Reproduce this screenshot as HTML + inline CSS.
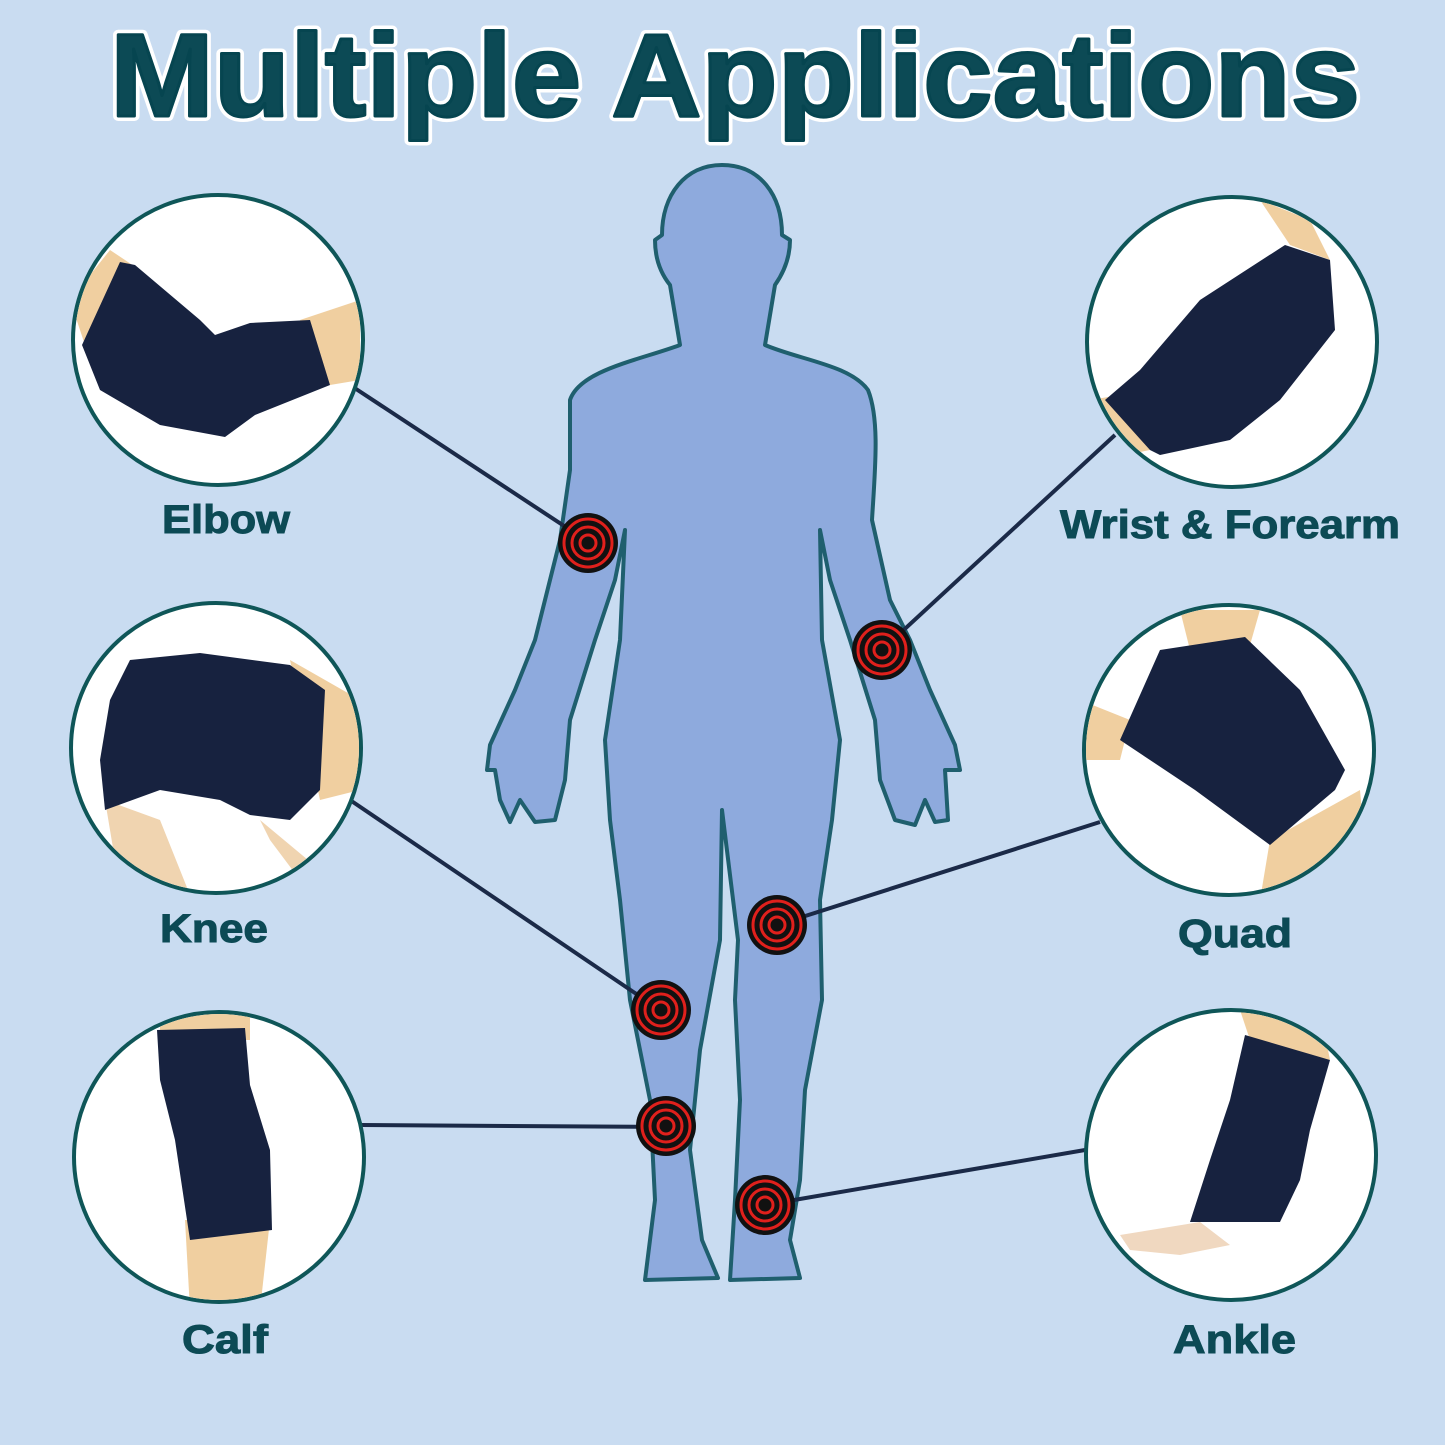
<!DOCTYPE html>
<html><head><meta charset="utf-8"><style>
html,body{margin:0;padding:0;background:#c9dcf1;}
svg{display:block}
text{font-family:"Liberation Sans",sans-serif;font-weight:bold;fill:#0c4a55}
</style></head><body>
<svg width="1445" height="1445" viewBox="0 0 1445 1445" xmlns="http://www.w3.org/2000/svg">
<rect width="1445" height="1445" fill="#c9dcf1"/>
<text x="735" y="116" font-size="118" text-anchor="middle" textLength="1250" lengthAdjust="spacingAndGlyphs" fill="#ffffff" stroke="#ffffff" stroke-width="10" stroke-linejoin="round">Multiple Applications</text>
<text x="735" y="116" font-size="118" text-anchor="middle" textLength="1250" lengthAdjust="spacingAndGlyphs" fill="#064550" stroke="#064550" stroke-width="3" stroke-linejoin="round">Multiple Applications</text>

<path d="M722,165 C760,165 782,195 782,235 L790,240 C790,260 782,275 775,285 L765,345 C800,360 850,365 868,390 C880,420 875,470 872,520 L890,600 L910,640 L930,690 L955,745 L960,770 L945,770 L948,820 L935,822 L925,800 L915,825 L895,820 L880,780 L875,720 L850,640 L830,580 L820,530 L822,640 L840,740 L832,820 L820,900 L822,1000 L805,1090 L800,1180 L790,1240 L800,1278 L730,1280 L735,1200 L740,1100 L735,1000 L738,940 L722,810 L720,940 L700,1050 L690,1150 L702,1240 L718,1278 L645,1280 L655,1200 L650,1100 L630,1000 L620,900 L610,820 L605,740 L620,640 L625,530 L615,580 L595,640 L570,720 L565,780 L555,820 L535,822 L520,800 L510,822 L500,800 L495,770 L487,770 L490,745 L515,690 L535,640 L560,540 L570,470 L570,400 C580,370 640,360 680,345 L670,285 C662,275 655,260 655,240 L662,235 C662,195 685,165 722,165 Z" fill="#8eaadd" stroke="#1f5f6e" stroke-width="4" stroke-linejoin="round"/>

<g stroke="#1b2a48" stroke-width="4">
<line x1="350" y1="385" x2="590" y2="543"/>
<line x1="1115" y1="435" x2="882" y2="650"/>
<line x1="350" y1="800" x2="660" y2="1010"/>
<line x1="1100" y1="822" x2="777" y2="925"/>
<line x1="362" y1="1125" x2="665" y2="1127"/>
<line x1="1085" y1="1150" x2="765" y2="1205"/>
</g>

<defs>
<g id="tg">
<circle r="30" fill="#111"/>
<circle r="24" fill="none" stroke="#e0201c" stroke-width="3"/>
<circle r="16" fill="none" stroke="#e0201c" stroke-width="3"/>
<circle r="8" fill="none" stroke="#e0201c" stroke-width="3"/>
</g>
<clipPath id="c1"><circle cx="218" cy="340" r="143"/></clipPath>
<clipPath id="c2"><circle cx="1232" cy="342" r="143"/></clipPath>
<clipPath id="c3"><circle cx="216" cy="748" r="143"/></clipPath>
<clipPath id="c4"><circle cx="1229" cy="750" r="143"/></clipPath>
<clipPath id="c5"><circle cx="219" cy="1157" r="143"/></clipPath>
<clipPath id="c6"><circle cx="1231" cy="1155" r="143"/></clipPath>
</defs>
<use href="#tg" x="588" y="543"/>
<use href="#tg" x="882" y="650"/>
<use href="#tg" x="777" y="925"/>
<use href="#tg" x="661" y="1010"/>
<use href="#tg" x="666" y="1126"/>
<use href="#tg" x="765" y="1205"/>

<g stroke="#0f5658" stroke-width="4" fill="#fff">
<circle cx="218" cy="340" r="145"/>
<circle cx="1232" cy="342" r="145"/>
<circle cx="216" cy="748" r="145"/>
<circle cx="1229" cy="750" r="145"/>
<circle cx="219" cy="1157" r="145"/>
<circle cx="1231" cy="1155" r="145"/>
</g>

<g clip-path="url(#c1)">
<polygon points="70,300 110,250 140,270 90,360" fill="#f0cfa0"/>
<polygon points="300,320 360,300 360,380 330,385" fill="#f0cfa0"/>
<polygon points="82,345 120,262 135,265 200,320 215,335 250,323 310,320 330,385 255,415 225,437 160,425 100,390" fill="#17223f"/>
</g>
<g clip-path="url(#c2)">
<polygon points="1260,200 1310,220 1330,260 1290,245" fill="#f0cfa0"/>
<polygon points="1090,400 1120,395 1150,450 1100,460" fill="#f0cfa0"/>
<polygon points="1285,245 1330,260 1335,330 1280,400 1230,440 1160,455 1150,450 1105,400 1140,370 1200,300" fill="#17223f"/>
</g>
<g clip-path="url(#c3)">
<polygon points="290,660 360,700 360,790 320,800" fill="#f0cfa0"/>
<polygon points="105,800 120,890 190,895 160,820" fill="#f0d4b0"/>
<polygon points="260,820 320,870 300,880 270,840" fill="#f0d4b0"/>
<polygon points="130,660 200,653 290,665 325,690 320,790 290,820 250,815 220,800 160,790 105,810 100,760 110,700" fill="#17223f"/>
</g>
<g clip-path="url(#c4)">
<polygon points="1180,610 1260,610 1250,645 1190,650" fill="#f0cfa0"/>
<polygon points="1080,700 1130,720 1120,760 1080,760" fill="#f0cfa0"/>
<polygon points="1270,840 1360,790 1370,900 1260,900" fill="#f0cfa0"/>
<polygon points="1160,650 1245,637 1300,690 1345,770 1335,790 1270,845 1195,790 1120,740" fill="#17223f"/>
</g>
<g clip-path="url(#c5)">
<polygon points="160,1010 250,1010 250,1040 160,1040" fill="#f0cfa0"/>
<polygon points="185,1220 270,1220 260,1310 190,1310" fill="#f0cfa0"/>
<polygon points="157,1030 245,1028 250,1085 270,1150 272,1230 190,1240 175,1140 160,1080" fill="#17223f"/>
</g>
<g clip-path="url(#c6)">
<polygon points="1240,1010 1320,1010 1330,1060 1250,1040" fill="#f0cfa0"/>
<polygon points="1120,1235 1200,1222 1230,1245 1180,1255 1130,1250" fill="#f0d8c0"/>
<polygon points="1245,1035 1330,1060 1310,1130 1300,1180 1280,1222 1190,1222 1210,1160 1230,1100" fill="#17223f"/>
</g>

<g font-size="40" stroke="#0c4a55" stroke-width="1">
<text x="162" y="533" textLength="128" lengthAdjust="spacingAndGlyphs">Elbow</text>
<text x="1060" y="538" textLength="340" lengthAdjust="spacingAndGlyphs">Wrist &amp; Forearm</text>
<text x="160" y="942" textLength="108" lengthAdjust="spacingAndGlyphs">Knee</text>
<text x="1178" y="947" textLength="114" lengthAdjust="spacingAndGlyphs">Quad</text>
<text x="182" y="1353" textLength="86" lengthAdjust="spacingAndGlyphs">Calf</text>
<text x="1173" y="1353" textLength="123" lengthAdjust="spacingAndGlyphs">Ankle</text>
</g>
</svg>
</body></html>
